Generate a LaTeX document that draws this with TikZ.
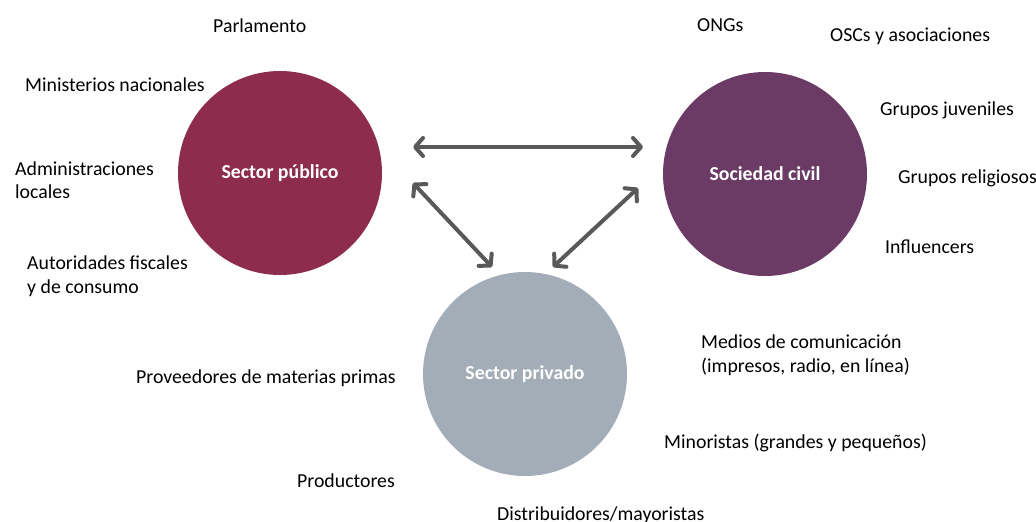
\documentclass[tikz,border=0pt]{standalone}
\usepackage{fontspec}
\setmainfont{Carlito}
\usetikzlibrary{arrows.meta}
\definecolor{publico}{HTML}{8E2C4E}
\definecolor{civil}{HTML}{6B3B66}
\definecolor{privado}{HTML}{A3ADB8}
\definecolor{flecha}{HTML}{595959}
\begin{document}
\begin{tikzpicture}[x=1pt,y=-1pt,
sector/.style={circle,minimum size=204pt,inner sep=0pt,text=white,font=\fontsize{19.8}{22}\selectfont\bfseries},
actor/.style={anchor=west,inner sep=0pt,align=left,font=\fontsize{19.8}{23.5}\selectfont},
relacion/.style={{Straight Barb[length=8pt,width=18pt,line cap=round,line join=round]}-{Straight Barb[length=8pt,width=18pt,line cap=round,line join=round]},line width=4pt,flecha}]

\useasboundingbox (0,0) rectangle (1036,522);

\node (pub) at (280,173) [sector,fill=publico] {Sector público};
\node (civ) at (765,174) [sector,fill=civil] {Sociedad civil};
\node (pri) at (525,374) [sector,fill=privado] {Sector privado};

\node (a1) at (213,26) [actor] {Parlamento};
\node (a2) at (25,85) [actor] {Ministerios nacionales};
\node (a3) at (15,180) [actor] {Administraciones\\locales};
\node (a4) at (27,276) [actor] {Autoridades fiscales\\y de consumo};

\node (b1) at (697,25) [actor] {ONGs};
\node (b2) at (830,36) [actor] {OSCs y asociaciones};
\node (b3) at (880,110) [actor] {Grupos juveniles};
\node (b4) at (898,178) [actor] {Grupos religiosos};
\node (b5) at (885,247) [actor] {Influencers};

\node (c1) at (701,355) [actor] {Medios de comunicación\\(impresos, radio, en línea)};
\node (c2) at (136,378) [actor] {Proveedores de materias primas};
\node (c3) at (664,443) [actor] {Minoristas (grandes y pequeños)};
\node (c4) at (297,481) [actor] {Productores};
\node (c5) at (497,515) [actor] {Distribuidores/mayoristas};

\coordinate (h1) at (413,147);
\coordinate (h2) at (643,147);
\coordinate (l1) at (413,183);
\coordinate (l2) at (492,267);
\coordinate (r1) at (638,188);
\coordinate (r2) at (553,267);

\draw [relacion] (h1) -- (h2);
\draw [relacion] (l1) -- (l2);
\draw [relacion] (r1) -- (r2);

\end{tikzpicture}
\end{document}
